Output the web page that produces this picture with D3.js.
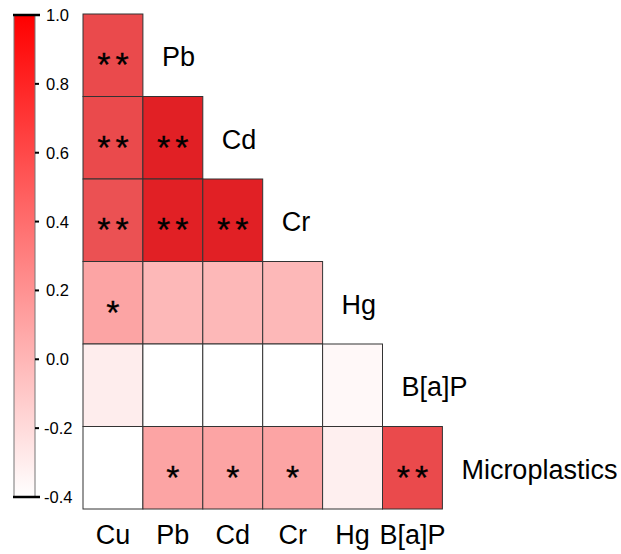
<!DOCTYPE html>
<html>
<head>
<meta charset="utf-8">
<script src="https://cdn.jsdelivr.net/npm/d3@7"></script>
<style>
    body { margin: 0; background: #fff; }
    text { font-family: "Liberation Sans", Arial, sans-serif; }
</style>
</head>
<body>
<div id="graph"></div>
<script>
var lignes = ["Pb", "Cd", "Cr", "Hg", "B[a]P", "Microplastics"],
    colonnes = ["Cu", "Pb", "Cd", "Cr", "Hg", "B[a]P"],
    correlations = [
        [0.60],
        [0.60, 0.86],
        [0.56, 0.86, 0.86],
        [0.10, -0.01, -0.01, -0.01],
        [-0.30, -0.45, -0.45, -0.45, -0.36],
        [-0.42, 0.10, 0.10, 0.10, -0.31, 0.60]
    ],
    etoiles = [
        ["**"],
        ["**", "**"],
        ["**", "**", "**"],
        ["*", "", "", ""],
        ["", "", "", "", ""],
        ["", "*", "*", "*", "", "**"]
    ],
    graduations = [-0.4, -0.2, 0.0, 0.2, 0.4, 0.6, 0.8, 1.0];

function dessinCorrelations() {
    var largeur = 621, hauteur = 554,
        svg = d3.select("#graph")
            .append("svg")
                .attr("width", largeur)
                .attr("height", hauteur),

        x = d3.scaleBand()
            .domain(colonnes)
            .range([83, 442.4]),

        y = d3.scaleBand()
            .domain(lignes)
            .range([14, 509]),

        couleur = d3.scaleLinear()
            .domain([-0.4, 0.1, 0.6, 1.0])
            .range(["#ffffff", "#fca4a4", "#ea4a4c", "#dc0a10"])
            .clamp(true),

        echelle = d3.scaleLinear()
            .domain([-0.4, 1.0])
            .range([497, 15]);

    // cellules du triangle inférieur
    var cellules = [];
    lignes.forEach(function (l, i) {
        correlations[i].forEach(function (v, j) {
            cellules.push({ligne: l, colonne: colonnes[j], valeur: v, sig: etoiles[i][j]});
        });
    });

    svg.selectAll(".cellule")
        .data(cellules)
        .enter()
        .append("rect")
            .attr("class", "cellule")
            .attr("x", function (d) { return x(d.colonne); })
            .attr("y", function (d) { return y(d.ligne); })
            .attr("width", x.bandwidth())
            .attr("height", y.bandwidth())
            .style("fill", function (d) { return couleur(d.valeur); })
            .style("stroke", "#333")
            .style("stroke-width", 1);

    svg.selectAll(".etoile")
        .data(cellules.filter(function (d) { return d.sig; }))
        .enter()
        .append("text")
            .attr("class", "etoile")
            .attr("x", function (d) { return x(d.colonne) + x.bandwidth() / 2 + (d.sig.length > 1 ? 2.5 : 0); })
            .attr("y", function (d) { return y(d.ligne) + y.bandwidth() / 2 + 21; })
            .style("text-anchor", "middle")
            .style("font-size", "34px")
            .style("letter-spacing", function (d) { return d.sig.length > 1 ? "5px" : "0px"; })
            .style("fill", "#000")
            .style("stroke", "#000")
            .style("stroke-width", 0.3)
            .text(function (d) { return d.sig; });

    // libellés des lignes, à droite de la diagonale
    svg.selectAll(".libelle-ligne")
        .data(lignes)
        .enter()
        .append("text")
            .attr("x", function (d, i) { return x(colonnes[i]) + x.bandwidth() + 19; })
            .attr("y", function (d) { return y(d) + y.bandwidth() / 2 + 11; })
            .style("font-size", "27px")
            .style("fill", "#000")
            .text(function (d) { return d; });

    // libellés des colonnes
    svg.selectAll(".libelle-colonne")
        .data(colonnes)
        .enter()
        .append("text")
            .attr("x", function (d) { return x(d) + x.bandwidth() / 2; })
            .attr("y", 544)
            .style("text-anchor", "middle")
            .style("font-size", "27px")
            .style("fill", "#000")
            .text(function (d) { return d; });

    // barre de couleur
    var degrade = svg.append("defs")
        .append("linearGradient")
            .attr("id", "degrade")
            .attr("x1", 0).attr("y1", 1)
            .attr("x2", 0).attr("y2", 0);
    degrade.append("stop").attr("offset", "0%").attr("stop-color", "#ffffff");
    degrade.append("stop").attr("offset", "100%").attr("stop-color", "#ff0000");

    svg.append("rect")
        .attr("x", 14)
        .attr("y", echelle(1.0))
        .attr("width", 21)
        .attr("height", echelle(-0.4) - echelle(1.0))
        .style("fill", "url(#degrade)")
        .style("stroke", "#777")
        .style("stroke-width", 1);

    svg.selectAll(".extremite")
        .data([-0.4, 1.0])
        .enter()
        .append("line")
            .attr("x1", 13)
            .attr("x2", 40)
            .attr("y1", function (d) { return echelle(d); })
            .attr("y2", function (d) { return echelle(d); })
            .style("stroke", "#000")
            .style("stroke-width", 2.5);

    svg.selectAll(".graduation")
        .data(graduations)
        .enter()
        .append("line")
            .attr("x1", 35)
            .attr("x2", 39)
            .attr("y1", function (d) { return echelle(d); })
            .attr("y2", function (d) { return echelle(d); })
            .style("stroke", "#000")
            .style("stroke-width", 2);

    svg.selectAll(".valeur")
        .data(graduations)
        .enter()
        .append("text")
            .attr("x", function (d) { return d < 0 ? 44 : 46; })
            .attr("y", function (d) { return echelle(d); })
            .attr("dy", "0.36em")
            .style("font-size", "16.5px")
            .style("fill", "#000")
            .text(function (d) { return d3.format(".1f")(d).replace("−", "-"); });
}

dessinCorrelations();
</script>
</body>
</html>
